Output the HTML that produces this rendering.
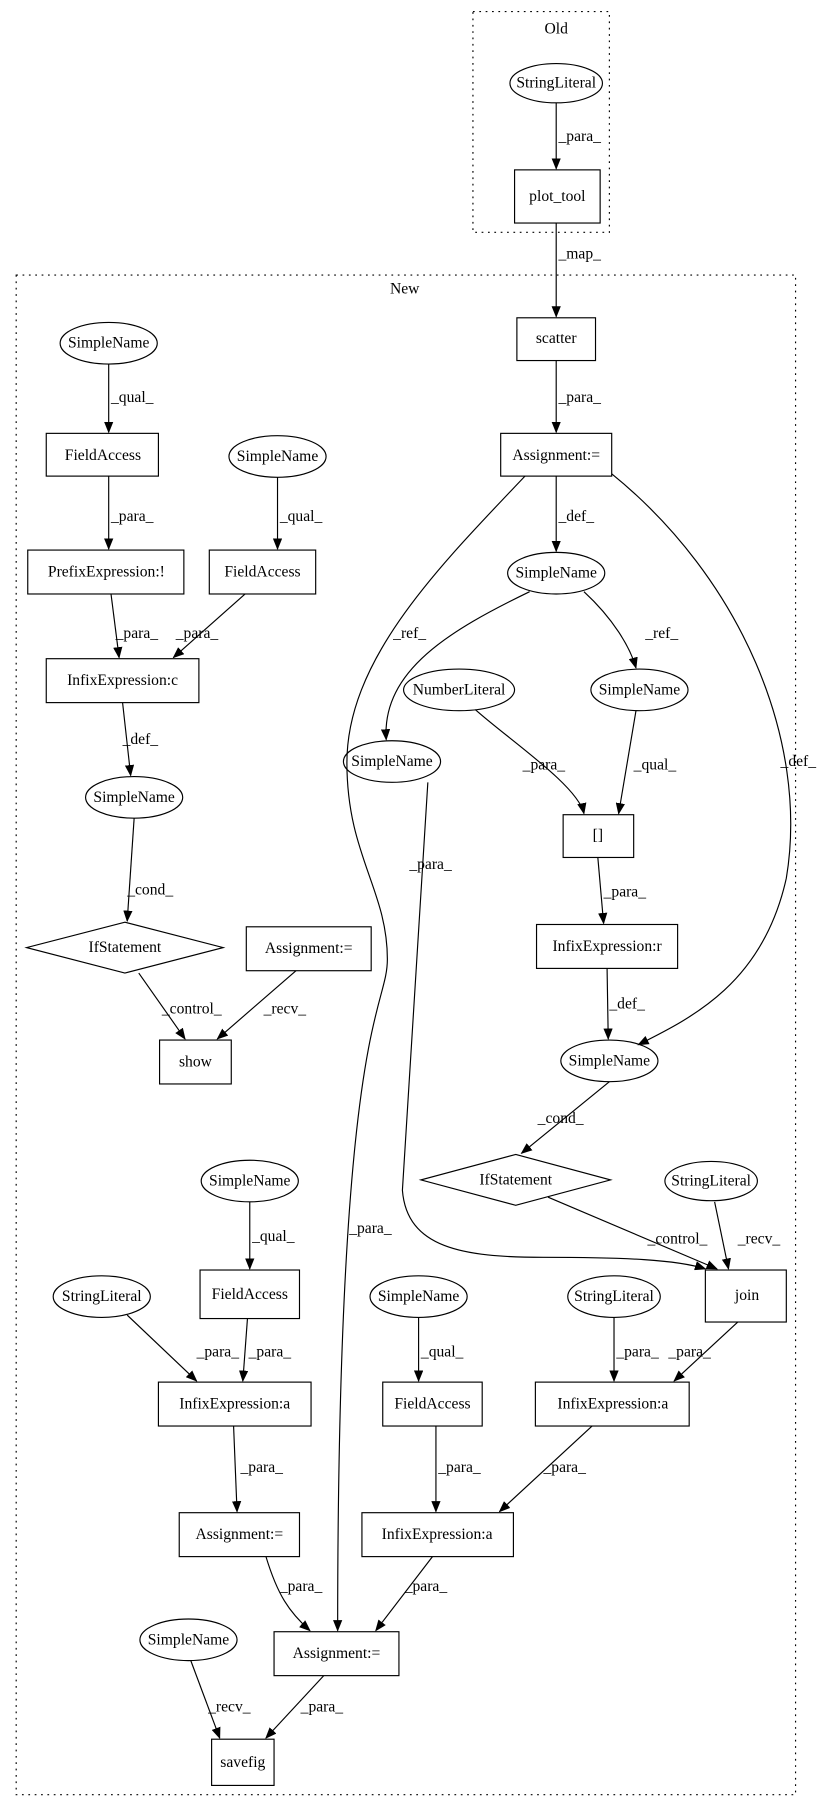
<!DOCTYPE html>
<html><head><meta charset="utf-8"><style>
html,body{margin:0;padding:0;background:#fff}
svg{display:block}
text{font-family:"Liberation Serif",serif;font-size:13.5px;fill:#000}
.n{text-anchor:middle;dominant-baseline:central}
.l{text-anchor:start;dominant-baseline:central}
</style></head><body>
<svg width="821" height="1812" viewBox="0 0 710 1568" preserveAspectRatio="none" xmlns="http://www.w3.org/2000/svg">
<defs><marker id="a" markerWidth="10" markerHeight="8" refX="9" refY="4" orient="auto" markerUnits="userSpaceOnUse"><path d="M0,0 L10,4 L0,8 z" fill="#000"/></marker></defs>
<g fill="none" stroke="#000" stroke-width="1">
<rect x="409" y="10" width="118" height="191" stroke-dasharray="1.5,4"/>
<rect x="14" y="238" width="674" height="1315" stroke-dasharray="1.5,4"/>
<ellipse cx="481" cy="72" rx="40" ry="17"/>
<rect x="445" y="147" width="74" height="46"/>
<rect x="447" y="275" width="68" height="37"/>
<rect x="433" y="375" width="96" height="37"/>
<ellipse cx="481" cy="496" rx="42" ry="18"/>
<ellipse cx="94" cy="297" rx="42" ry="18"/>
<rect x="40" y="375" width="97" height="37"/>
<ellipse cx="240" cy="395" rx="42" ry="18"/>
<rect x="181" y="476" width="92" height="38"/>
<rect x="24" y="476" width="135" height="38"/>
<rect x="40" y="570" width="132" height="38"/>
<ellipse cx="116" cy="690" rx="42" ry="18"/>
<polygon points="108,798 193,820 108,842 23,820"/>
<rect x="213" y="802" width="108" height="38"/>
<rect x="138" y="900" width="62" height="38"/>
<ellipse cx="553" cy="597" rx="42" ry="18"/>
<ellipse cx="397" cy="597" rx="48" ry="18"/>
<ellipse cx="339" cy="659" rx="42" ry="18"/>
<rect x="487" y="705" width="61" height="37"/>
<rect x="464" y="800" width="122" height="38"/>
<ellipse cx="527" cy="918" rx="42" ry="18"/>
<polygon points="446,999 528,1021 446,1043 364,1021"/>
<ellipse cx="615" cy="1022" rx="40" ry="17"/>
<rect x="610" y="1099" width="70" height="45"/>
<ellipse cx="216" cy="1022" rx="42" ry="18"/>
<rect x="173" y="1099" width="86" height="42"/>
<ellipse cx="88" cy="1122" rx="42" ry="18"/>
<rect x="137" y="1196" width="132" height="38"/>
<rect x="155" y="1309" width="104" height="38"/>
<ellipse cx="362" cy="1122" rx="42" ry="18"/>
<rect x="331" y="1196" width="86" height="38"/>
<ellipse cx="531" cy="1122" rx="40" ry="18"/>
<rect x="463" y="1196" width="133" height="38"/>
<rect x="313" y="1309" width="131" height="38"/>
<rect x="237" y="1412" width="108" height="38"/>
<ellipse cx="163" cy="1419" rx="42" ry="18"/>
<rect x="183" y="1505" width="54" height="40"/>
</g>
<g fill="none" stroke="#000" stroke-width="1" marker-end="url(#a)">
<path d="M481,89 L481,146"/>
<path d="M481,193 L481,274"/>
<path d="M481,312 L481,374"/>
<path d="M481,412 L481,477"/>
<path d="M94,315 L94,374"/>
<path d="M94,412 L94,475"/>
<path d="M240,413 L240,475"/>
<path d="M96,514 L103,569"/>
<path d="M212,514 L150,569"/>
<path d="M106,608 L113,671"/>
<path d="M116,708 L110,797"/>
<path d="M120,842 L160,899"/>
<path d="M256,840 L188,899"/>
<path d="M458,512 C390,545 330,580 334,640"/>
<path d="M505,512 C530,535 545,560 550,578"/>
<path d="M411,614 C440,640 500,680 505,704"/>
<path d="M550,615 L535,704"/>
<path d="M517,742 L522,799"/>
<path d="M525,838 L526,899"/>
<path d="M529,410 C640,500 700,640 680,760 C660,850 600,880 552,904"/>
<path d="M454,412 C380,490 300,570 300,660 C300,740 335,770 335,830 C335,875 292,880 292,1411"/>
<path d="M527,936 L451,998"/>
<path d="M370,677 L348,1030 C352,1080 400,1088 470,1088 C540,1088 585,1090 610,1098"/>
<path d="M474,1036 L620,1098"/>
<path d="M618,1040 L630,1098"/>
<path d="M216,1040 L216,1098"/>
<path d="M110,1138 L170,1195"/>
<path d="M214,1141 L210,1195"/>
<path d="M202,1234 L205,1308"/>
<path d="M362,1140 L362,1195"/>
<path d="M531,1140 L531,1195"/>
<path d="M638,1144 L583,1195"/>
<path d="M377,1234 L377,1308"/>
<path d="M512,1234 L432,1308"/>
<path d="M230,1347 C240,1380 250,1395 268,1411"/>
<path d="M374,1347 L325,1411"/>
<path d="M165,1437 L190,1504"/>
<path d="M280,1450 L230,1504"/>
</g>
<g>
<text class="n" x="481" y="25">Old</text>
<text class="n" x="350" y="250">New</text>
<text class="n" x="481" y="72">StringLiteral</text>
<text class="n" x="482" y="170">plot_tool</text>
<text class="n" x="481" y="293">scatter</text>
<text class="n" x="481" y="394">Assignment:=</text>
<text class="n" x="481" y="496">SimpleName</text>
<text class="n" x="94" y="297">SimpleName</text>
<text class="n" x="89" y="394">FieldAccess</text>
<text class="n" x="240" y="395">SimpleName</text>
<text class="n" x="227" y="495">FieldAccess</text>
<text class="n" x="92" y="495">PrefixExpression:!</text>
<text class="n" x="106" y="589">InfixExpression:c</text>
<text class="n" x="116" y="690">SimpleName</text>
<text class="n" x="108" y="820">IfStatement</text>
<text class="n" x="267" y="821">Assignment:=</text>
<text class="n" x="169" y="919">show</text>
<text class="n" x="553" y="597">SimpleName</text>
<text class="n" x="397" y="597">NumberLiteral</text>
<text class="n" x="339" y="659">SimpleName</text>
<text class="n" x="517" y="723">[]</text>
<text class="n" x="525" y="819">InfixExpression:r</text>
<text class="n" x="527" y="918">SimpleName</text>
<text class="n" x="446" y="1021">IfStatement</text>
<text class="n" x="615" y="1022">StringLiteral</text>
<text class="n" x="646" y="1121">join</text>
<text class="n" x="216" y="1022">SimpleName</text>
<text class="n" x="216" y="1120">FieldAccess</text>
<text class="n" x="88" y="1122">StringLiteral</text>
<text class="n" x="203" y="1215">InfixExpression:a</text>
<text class="n" x="207" y="1328">Assignment:=</text>
<text class="n" x="362" y="1122">SimpleName</text>
<text class="n" x="374" y="1215">FieldAccess</text>
<text class="n" x="531" y="1122">StringLiteral</text>
<text class="n" x="530" y="1215">InfixExpression:a</text>
<text class="n" x="378" y="1328">InfixExpression:a</text>
<text class="n" x="291" y="1431">Assignment:=</text>
<text class="n" x="163" y="1419">SimpleName</text>
<text class="n" x="210" y="1525">savefig</text>
</g>
<g>
<text class="l" x="483" y="118">_para_</text>
<text class="l" x="483" y="220">_map_</text>
<text class="l" x="483" y="344">_para_</text>
<text class="l" x="483" y="447">_def_</text>
<text class="l" x="96" y="344">_qual_</text>
<text class="l" x="96" y="447">_para_</text>
<text class="l" x="242" y="447">_qual_</text>
<text class="l" x="100" y="548">_para_</text>
<text class="l" x="152" y="548">_para_</text>
<text class="l" x="106" y="640">_def_</text>
<text class="l" x="110" y="770">_cond_</text>
<text class="l" x="140" y="873">_control_</text>
<text class="l" x="228" y="873">_recv_</text>
<text class="l" x="340" y="548">_ref_</text>
<text class="l" x="558" y="548">_ref_</text>
<text class="l" x="452" y="662">_para_</text>
<text class="l" x="548" y="662">_qual_</text>
<text class="l" x="522" y="772">_para_</text>
<text class="l" x="527" y="869">_def_</text>
<text class="l" x="675" y="659">_def_</text>
<text class="l" x="465" y="968">_cond_</text>
<text class="l" x="302" y="1063">_para_</text>
<text class="l" x="354" y="748">_para_</text>
<text class="l" x="560" y="1072">_control_</text>
<text class="l" x="638" y="1072">_recv_</text>
<text class="l" x="218" y="1070">_qual_</text>
<text class="l" x="170" y="1170">_para_</text>
<text class="l" x="215" y="1170">_para_</text>
<text class="l" x="208" y="1270">_para_</text>
<text class="l" x="364" y="1170">_qual_</text>
<text class="l" x="533" y="1170">_para_</text>
<text class="l" x="578" y="1170">_para_</text>
<text class="l" x="379" y="1270">_para_</text>
<text class="l" x="470" y="1270">_para_</text>
<text class="l" x="242" y="1373">_para_</text>
<text class="l" x="350" y="1373">_para_</text>
<text class="l" x="180" y="1477">_recv_</text>
<text class="l" x="260" y="1477">_para_</text>
</g>
</svg>
</body></html>
